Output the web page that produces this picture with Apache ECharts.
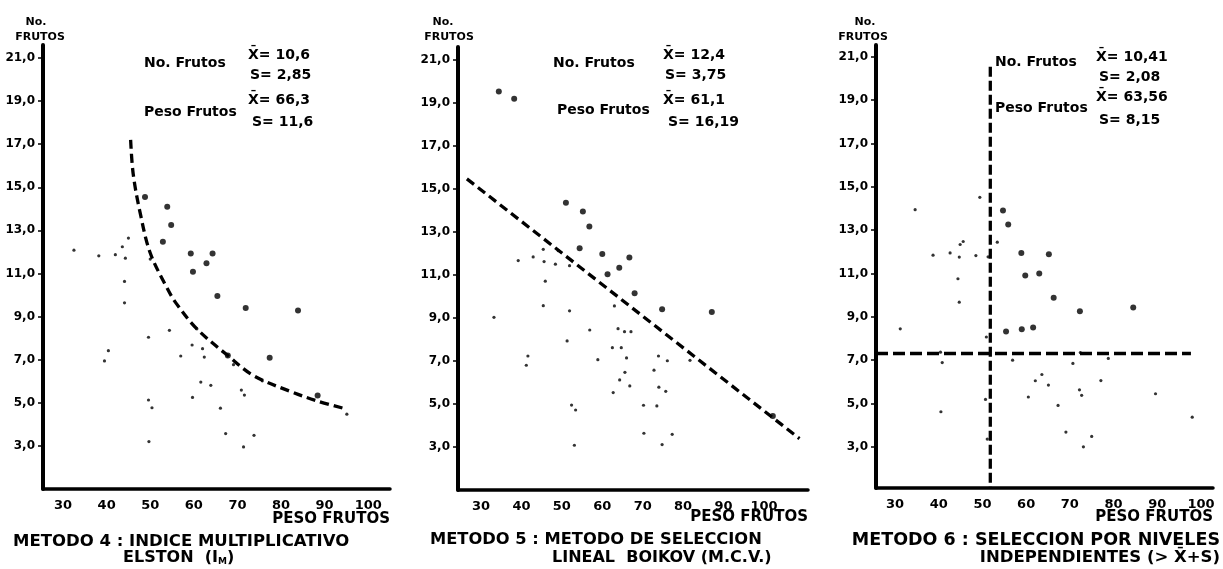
<!DOCTYPE html>
<html><head><meta charset="utf-8">
<script src="https://cdn.jsdelivr.net/npm/echarts@6/dist/echarts.min.js"></script>
<style>html,body{margin:0;padding:0;background:#fff}#c{width:1223px;height:569px}</style>
</head><body><div id="c"></div>
<script>
// ---- tick labels ----
const yTicks = [3,5,7,9,11,13,15,17,19,21];
const xTicks = [30,40,50,60,70,80,90,100];

// ---- METODO 4 ----
const m4Large = [[48.8,14.55],[53.9,14.1],[54.8,13.25],[52.9,12.47],[59.3,11.93],[64.3,11.93],[62.9,11.47],[59.8,11.08],[65.4,9.96],[71.9,9.4],[83.9,9.28],[77.4,7.09],[88.4,5.34],[67.8,7.19]];
const m4Small = [[45.0,12.64],[43.6,12.24],[32.5,12.08],[38.2,11.82],[42.0,11.87],[44.3,11.71],[50.0,11.67],[44.1,10.63],[44.1,9.64],[49.6,8.04],[54.4,8.36],[40.4,7.42],[39.5,6.94],[57.0,7.17],[59.6,7.68],[62.0,7.51],[62.4,7.12],[60.7,8.43],[69.1,6.77],[75.7,6.02],[61.6,5.96],[63.9,5.81],[70.9,5.59],[71.6,5.36],[59.7,5.25],[49.6,5.13],[50.4,4.77],[66.1,4.75],[67.3,3.57],[73.8,3.49],[71.4,2.95],[49.7,3.2],[95.1,4.47]];
const m4Curve = [[45.5,17.2],[46.1,15.6],[47.7,13.8],[50.0,11.95],[53.8,10.35],[56.0,9.6],[60.7,8.43],[67.8,7.19],[73.7,6.26],[82.1,5.53],[88.2,5.09],[95.0,4.71]];

// ---- METODO 5 ----
const m5Large = [[34.4,19.53],[38.2,19.19],[51.0,14.36],[55.2,13.95],[56.8,13.25],[54.4,12.24],[60.0,11.98],[66.7,11.81],[64.2,11.34],[61.3,11.03],[68.0,10.15],[74.8,9.4],[87.1,9.28],[102.2,4.44]];
const m5Small = [[49.1,12.13],[45.4,12.19],[39.2,11.67],[42.9,11.84],[45.6,11.62],[48.4,11.5],[51.9,11.43],[45.9,10.71],[45.4,9.57],[33.2,9.03],[51.9,9.33],[63.0,9.56],[56.9,8.44],[63.9,8.5],[65.5,8.36],[67.1,8.36],[51.3,7.93],[62.5,7.62],[64.7,7.62],[41.6,7.23],[41.2,6.8],[58.9,7.06],[66.0,7.14],[73.9,7.23],[76.1,7.01],[81.7,7.03],[65.6,6.47],[72.8,6.57],[64.3,6.12],[66.8,5.84],[62.7,5.53],[74.0,5.78],[75.7,5.59],[52.4,4.95],[53.4,4.72],[70.2,4.94],[73.5,4.91],[70.3,3.64],[77.3,3.59],[53.1,3.08],[74.8,3.11]];
const m5Line = [[26.5,15.47],[108.8,3.39]];

// ---- METODO 6 ----
const m6Large = [[54.7,13.91],[55.9,13.26],[58.9,11.95],[65.2,11.89],[59.8,10.91],[63.0,11.0],[66.3,9.88],[72.3,9.26],[84.5,9.43],[55.4,8.32],[59.0,8.43],[61.6,8.51]];
const m6Small = [[49.4,14.52],[34.6,13.95],[53.4,12.45],[45.6,12.48],[44.9,12.34],[38.7,11.85],[42.6,11.95],[44.7,11.76],[48.5,11.83],[51.3,11.77],[44.4,10.76],[44.7,9.68],[31.2,8.45],[50.9,8.07],[40.4,7.37],[40.8,6.89],[56.9,7.0],[70.7,6.85],[72.4,7.35],[78.8,7.08],[63.6,6.34],[62.1,6.05],[65.1,5.85],[77.1,6.06],[60.5,5.3],[72.2,5.63],[72.7,5.38],[89.6,5.45],[50.7,5.19],[67.3,4.91],[98.0,4.37],[40.5,4.62],[69.1,3.68],[75.0,3.48],[73.1,3.0],[51.1,3.36]];
const m6VLine = [[51.8,20.55],[51.8,1.1]];
const m6HLine = [[25.65,7.31],[97.7,7.31]];

const FONT = 'DejaVu Sans';
const grids = [
  {left:43, top:45, width:347, height:444},
  {left:458, top:47, width:350, height:443},
  {left:876, top:45, width:337, height:443}
];
const xRanges = [[25.4,105.0],[24.3,110.9],[25.65,102.75]];
const yRanges = [[1,21.6],[1,21.6],[1.1,21.55]];

function xAxis(i){
  return {type:'value', gridIndex:i, min:xRanges[i][0], max:xRanges[i][1],
    splitLine:{show:false},
    axisLine:{show:true, onZero:false, lineStyle:{color:'#000', width:3.5}},
    axisTick:{show:false},
    axisLabel:{customValues:xTicks, color:'#000', fontFamily:FONT, fontWeight:'bold', fontSize:13, margin:10,
      formatter:v=>String(Math.round(v))}};
}
function yAxis(i){
  return {type:'value', gridIndex:i, min:yRanges[i][0], max:yRanges[i][1],
    splitLine:{show:false},
    axisLine:{show:true, onZero:false, lineStyle:{color:'#000', width:4}},
    axisTick:{show:true, customValues:yTicks, length:5, lineStyle:{color:'#000', width:1.5}},
    axisLabel:{customValues:yTicks, color:'#000', fontFamily:FONT, fontWeight:'bold', fontSize:12, margin:8,
      formatter:v=>Math.round(v)+',0'}};
}
function dots(i, data, size){
  return {type:'scatter', xAxisIndex:i, yAxisIndex:i, data:data, symbolSize:size,
    itemStyle:{color:'#000'}, silent:true, animation:false};
}
function dash(i, data, smooth, dashArr){
  return {type:'line', xAxisIndex:i, yAxisIndex:i, data:data, smooth:smooth, showSymbol:false, symbol:'none',
    lineStyle:{color:'#000', width:3.3, type:dashArr}, silent:true, animation:false};
}

const txt = (x,y,s,opt={}) => ({type:'text', x:x, y:y, silent:true, style:Object.assign({
  text:s, fill:'#000', font:'bold '+(opt.size||14)+'px "'+FONT+'"', align:opt.align||'left', verticalAlign:'middle'}, opt.extra||{})});

const XB = 'X\u0304';
const graphics = [
  // panel 1
  txt(36,22,'No.',{size:11,align:'center'}), txt(40,37,'FRUTOS',{size:11,align:'center'}),
  txt(144,63,'No. Frutos'), txt(248,55,XB+'= 10,6'), txt(250,75,'S= 2,85'),
  txt(144,112,'Peso Frutos'), txt(248,100,XB+'= 66,3'), txt(252,122,'S= 11,6'),
  txt(390,519,'PESO FRUTOS',{size:15,align:'right'}),
  txt(13,542,'METODO 4 : INDICE MULTIPLICATIVO',{size:16.5}),
  // panel 2
  txt(443,22,'No.',{size:11,align:'center'}), txt(449,37,'FRUTOS',{size:11,align:'center'}),
  txt(553,63,'No. Frutos'), txt(663,55,XB+'= 12,4'), txt(665,75,'S= 3,75'),
  txt(557,110,'Peso Frutos'), txt(663,100,XB+'= 61,1'), txt(668,122,'S= 16,19'),
  txt(808,517,'PESO FRUTOS',{size:15,align:'right'}),
  txt(430,540,'METODO 5 : METODO DE SELECCION',{size:16.3}),
  txt(552,558,'LINEAL  BOIKOV (M.C.V.)',{size:16}),
  // panel 3
  txt(865,22,'No.',{size:11,align:'center'}), txt(863,37,'FRUTOS',{size:11,align:'center'}),
  txt(995,62,'No. Frutos'), txt(995,108,'Peso Frutos'),
  txt(1096,57,XB+'= 10,41'), txt(1099,77,'S= 2,08'), txt(1096,97,XB+'= 63,56'), txt(1099,120,'S= 8,15'),
  txt(1213,517,'PESO FRUTOS',{size:15,align:'right'}),
  txt(1220,540,'METODO 6 : SELECCION POR NIVELES',{size:17.5,align:'right'}),
  txt(1220,558,'INDEPENDIENTES (> '+XB+'+S)',{size:16.5,align:'right'}),
  // ELSTON (I_M)
  {type:'text', x:123, y:558, silent:true, style:{
    text:'ELSTON  (I{sub|M})', fill:'#000', font:'bold 16px "'+FONT+'"', verticalAlign:'middle',
    rich:{sub:{fontSize:9, fontWeight:'bold', fontFamily:FONT, fill:'#000', verticalAlign:'bottom', padding:[6,0,0,0]}}}}
];

const chart = echarts.init(document.getElementById('c'), null, {renderer:'canvas'});
chart.setOption({
  animation:false,
  backgroundColor:'#fff',
  grid:grids,
  xAxis:[xAxis(0),xAxis(1),xAxis(2)],
  yAxis:[yAxis(0),yAxis(1),yAxis(2)],
  series:[
    dash(0,m4Curve,0.35,[9,5]), dots(0,m4Large,6), dots(0,m4Small,3.2),
    dash(1,m5Line,false,[9,5]), dots(1,m5Large,6), dots(1,m5Small,3.2),
    dash(2,m6VLine,false,[10,4]), dash(2,m6HLine,false,[12,5]), dots(2,m6Large,6), dots(2,m6Small,3.2)
  ],
  graphic:graphics
});
</script></body></html>
